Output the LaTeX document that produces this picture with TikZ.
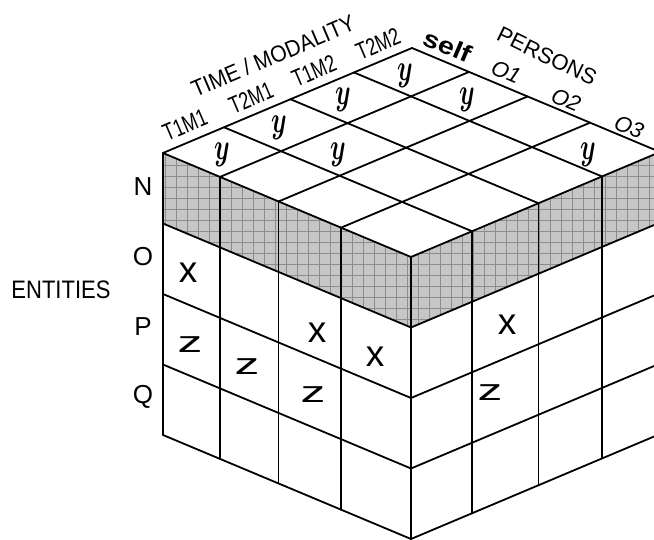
\documentclass[tikz,border=0pt]{standalone}
\usepackage{fontspec}
\setmainfont{Liberation Sans}
\usetikzlibrary{calc}
\definecolor{bandfill}{RGB}{198,198,198}
\definecolor{bandgrid}{RGB}{140,140,140}
\begin{document}
\begin{tikzpicture}[x=1pt,y=-1pt,
  edge/.style={line width=1.8pt, line join=round, line cap=round},
  lab/.style={inner sep=0pt, font=\fontsize{21}{21}\selectfont},
  rowlab/.style={inner sep=0pt, font=\fontsize{26}{26}\selectfont},
  ymark/.style={inner sep=0pt, font=\fontsize{24}{24}\selectfont},
  xmark/.style={inner sep=0pt, font=\fontsize{37}{37}\selectfont},
  zmark/.style={inner sep=0pt, font=\fontsize{30}{30}\selectfont}]
\useasboundingbox (0,0) rectangle (654,540);
\clip (0,0) rectangle (654,540);
\coordinate (L) at (163,153);
\coordinate (B) at (412,48);
\coordinate (F) at (411,257);
\coordinate (R) at (660,152);
\coordinate (L1) at ($(L)+(0,70.5)$);
\coordinate (F1) at ($(F)+(0,70.5)$);
\coordinate (R1) at ($(R)+(0,70.5)$);
% shaded band
\fill[bandfill] (L) -- (F) -- (R) -- (R1) -- (F1) -- (L1) -- cycle;
\begin{scope}
  \clip (L) -- (F) -- (R) -- (R1) -- (F1) -- (L1) -- cycle;
  \draw[bandgrid, line width=0.7pt] (150,140) grid[step=11pt] (670,340);
\end{scope}
% top face grid
\foreach \s in {0.245,0.512,0.767}
  \draw[edge] ($(L)!\s!(B)$) -- ($(F)!\s!(R)$);
\foreach \t in {0.23,0.466,0.718}
  \draw[edge] ($(L)!\t!(F)$) -- ($(B)!\t!(R)$);
\draw[edge] (L) -- (B) -- (R);
% front-left face
\foreach \t in {0,0.23,0.466,0.718,1}
  \draw[edge] ($(L)!\t!(F)$) -- ++(0,282);
\foreach \k in {0,70.5,141,211.5,282}
  \draw[edge] ($(L)+(0,\k)$) -- ($(F)+(0,\k)$);
% right face
\foreach \s in {0.245,0.512,0.767}
  \draw[edge] ($(F)!\s!(R)$) -- ++(0,282);
\foreach \k in {0,70.5,141,211.5,282}
  \draw[edge] ($(F)+(0,\k)$) -- ($(R)+(0,\k)$);
% top labels
\node[lab, rotate=23] (tm) at (273,56) {\scalebox{1}[1.1]{TIME / MODALITY}};
\node[lab, rotate=23] (t11) at (185,125) {\scalebox{0.85}[1.15]{T1M1}};
\node[lab, rotate=23] (t21) at (251,98) {\scalebox{0.85}[1.15]{T2M1}};
\node[lab, rotate=23] (t12) at (314,71) {\scalebox{0.85}[1.15]{T1M2}};
\node[lab, rotate=23] (t22) at (378,44) {\scalebox{0.85}[1.15]{T2M2}};
\node[inner sep=0pt, rotate=-23, font=\fontsize{24}{24}\selectfont\bfseries] (self) at (448,46) {\scalebox{1.2}[1]{self}};
\node[inner sep=0pt, rotate=-26, font=\fontsize{22}{22}\selectfont] (pers) at (547,56) {PERSONS};
\node[lab, rotate=-23, font=\fontsize{22}{22}\selectfont\itshape] (o1) at (506,72) {O1};
\node[lab, rotate=-23, font=\fontsize{22}{22}\selectfont\itshape] (o2) at (566,100) {O2};
\node[lab, rotate=-23, font=\fontsize{22}{22}\selectfont\itshape] (o3) at (629,127) {O3};
% side labels
\node[inner sep=0pt, font=\fontsize{22}{22}\selectfont] (ent) at (61,290) {\scalebox{1}[1.15]{ENTITIES}};
\node[rowlab] (rn) at (143,187) {N};
\node[rowlab] (ro) at (143,257) {O};
\node[rowlab] (rp) at (143,327) {P};
\node[rowlab] (rq) at (143,397) {Q};
% cell marks
\node[ymark] (y1) at (222,155) {\scalebox{1}[1.5]{\boldmath$y$}};
\node[ymark] (y2) at (279,128) {\scalebox{1}[1.5]{\boldmath$y$}};
\node[ymark] (y3) at (343,100) {\scalebox{1}[1.5]{\boldmath$y$}};
\node[ymark] (y4) at (405,76) {\scalebox{1}[1.5]{\boldmath$y$}};
\node[ymark] (y5) at (338,155) {\scalebox{1}[1.5]{\boldmath$y$}};
\node[ymark] (y6) at (467,100) {\scalebox{1}[1.5]{\boldmath$y$}};
\node[ymark] (y7) at (588,155) {\scalebox{1}[1.5]{\boldmath$y$}};
\node[xmark] (x1) at (188,273) {x};
\node[xmark] (x2) at (317,333) {x};
\node[xmark] (x3) at (375,357) {x};
\node[xmark] (x4) at (507,325) {x};
\node[zmark] (z1) at (190,345) {\scalebox{1.65}[1]{z}};
\node[zmark] (z2) at (247,367) {\scalebox{1.65}[1]{z}};
\node[zmark] (z3) at (313,395) {\scalebox{1.65}[1]{z}};
\node[zmark] (z4) at (490,393) {\scalebox{1.65}[1]{z}};
\end{tikzpicture}
\end{document}
